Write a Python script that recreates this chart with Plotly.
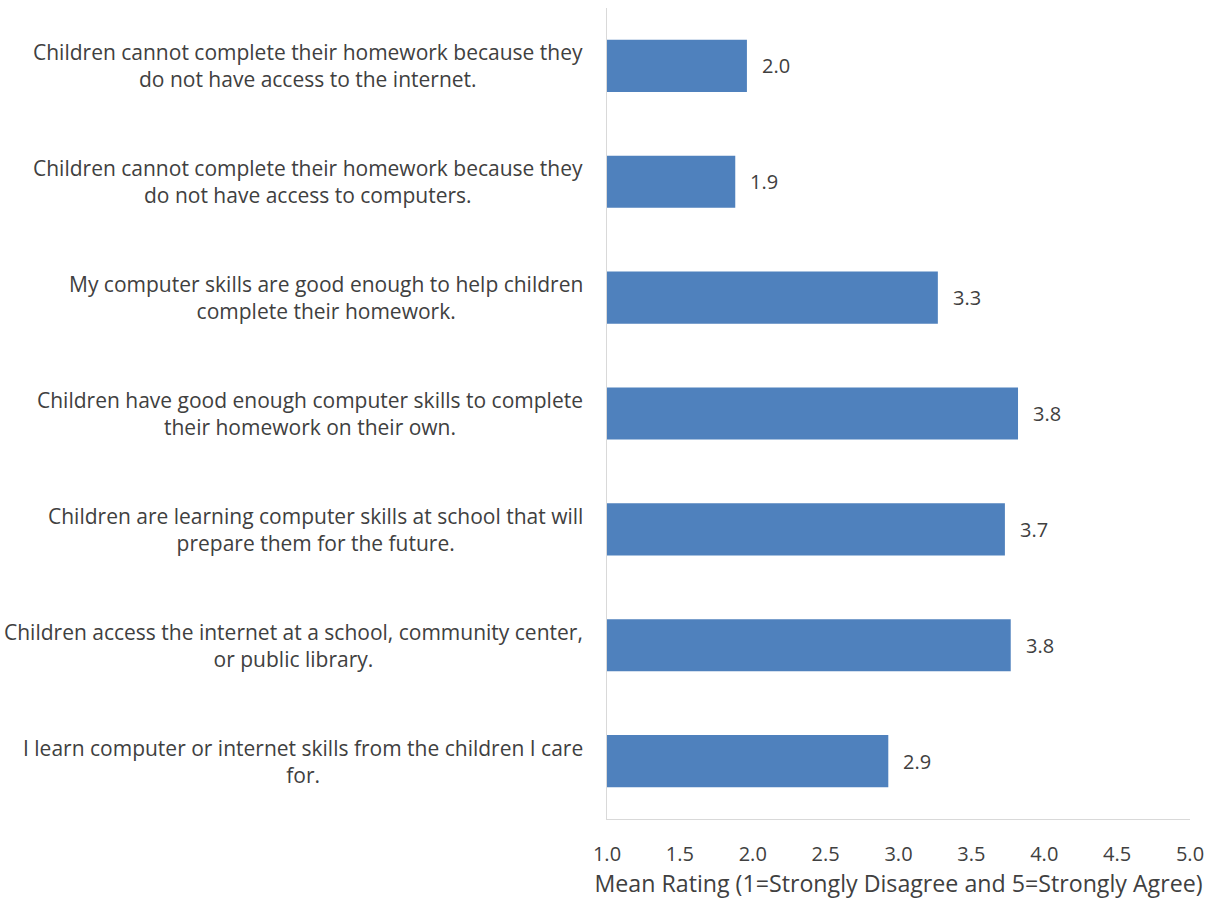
import plotly.graph_objects as go

categories = [
    "Children cannot complete their homework because they<br>do not have access to the internet.",
    "Children cannot complete their homework because they<br>do not have access to computers.",
    "My computer skills are good enough to help children<br>complete their homework.",
    "Children have good enough computer skills to complete<br>their homework on their own.",
    "Children are learning computer skills at school that will<br>prepare them for the future.",
    "Children access the internet at a school, community center,<br>or public library.",
    "I learn computer or internet skills from the children I care<br>for.",
]
values = [1.96, 1.88, 3.27, 3.82, 3.73, 3.77, 2.93]
value_labels = ["2.0", "1.9", "3.3", "3.8", "3.7", "3.8", "2.9"]
x_ticks = [1.0, 1.5, 2.0, 2.5, 3.0, 3.5, 4.0, 4.5, 5.0]

FONT = "Open Sans"
TXT = "#404040"

fig = go.Figure(
    go.Bar(
        y=categories,
        x=[v - 1 for v in values],
        base=1,
        orientation="h",
        marker=dict(color="#4F81BD", line=dict(width=0)),
        hoverinfo="skip",
    )
)

# value labels
for c, v, t in zip(categories, values, value_labels):
    fig.add_annotation(
        x=v, y=c, text=t, showarrow=False, xanchor="left", xshift=13,
        font=dict(family=FONT, size=20, color=TXT),
    )

# category labels (centered multi-line blocks, right-anchored to the axis)
for c in categories:
    fig.add_annotation(
        x=0, xref="paper", y=c, yref="y", text=c, showarrow=False,
        xanchor="right", align="center", xshift=-22,
        font=dict(family=FONT, size=21, color=TXT),
    )

fig.update_layout(
    width=1217, height=901,
    margin=dict(l=607, r=27, t=8, b=82),
    paper_bgcolor="white", plot_bgcolor="white",
    bargap=0.55,
    showlegend=False,
    font=dict(family=FONT, size=20, color=TXT),
)
fig.update_xaxes(
    range=[1, 5], tickvals=x_ticks, tickformat=".1f",
    showgrid=False, zeroline=False,
    showline=True, linecolor="#d9d9d9", linewidth=1,
    ticks="", ticklabelstandoff=17,
    tickfont=dict(family=FONT, size=20, color=TXT),
    title=dict(text="Mean Rating (1=Strongly Disagree and 5=Strongly Agree)",
               font=dict(family=FONT, size=23.2, color=TXT), standoff=8),
)
fig.update_yaxes(
    autorange="reversed",
    showgrid=False, zeroline=False,
    showline=True, linecolor="#d9d9d9", linewidth=1,
    ticks="", showticklabels=False,
)

fig.write_html(
    "out.html",
    config={"displayModeBar": False},
    post_script="document.body.style.margin='0';document.body.style.padding='0';",
)
